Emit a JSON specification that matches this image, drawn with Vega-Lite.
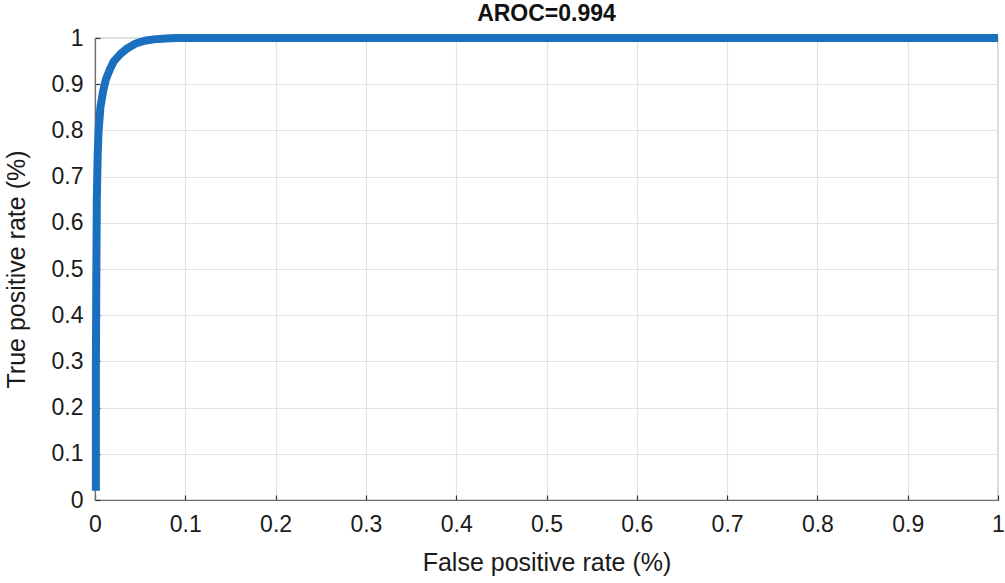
{
  "$schema": "https://vega.github.io/schema/vega-lite/v6.json",
  "width": 903,
  "height": 462,
  "autosize": "none",
  "padding": {"left": 95, "top": 38, "right": 7, "bottom": 83},
  "background": "white",
  "title": {"text": "AROC=0.994", "font": "Liberation Sans", "fontSize": 23, "fontWeight": "bold", "color": "#111", "anchor": "middle", "offset": 1},
  "config": {
    "view": {"stroke": "#6e6e6e", "strokeWidth": 1.2},
    "axis": {
      "labelFont": "Liberation Sans", "labelFontSize": 23, "labelColor": "#1a1a1a",
      "titleFont": "Liberation Sans", "titleFontSize": 25, "titleFontWeight": "normal", "titleColor": "#1a1a1a",
      "gridColor": "#e3e3e3", "gridWidth": 1.2, "domainColor": "#6e6e6e", "domainWidth": 1.2,
      "tickColor": "#333", "tickSize": -5, "tickWidth": 1.2
    }
  },
  "data": {"values": [
    {"i": 0, "fpr": 0.001, "tpr": 0.02},
    {"i": 1, "fpr": 0.001, "tpr": 0.3},
    {"i": 2, "fpr": 0.0015, "tpr": 0.5},
    {"i": 3, "fpr": 0.002, "tpr": 0.65},
    {"i": 4, "fpr": 0.003, "tpr": 0.75},
    {"i": 5, "fpr": 0.004, "tpr": 0.8},
    {"i": 6, "fpr": 0.006, "tpr": 0.85},
    {"i": 7, "fpr": 0.009, "tpr": 0.885},
    {"i": 8, "fpr": 0.012, "tpr": 0.91},
    {"i": 9, "fpr": 0.016, "tpr": 0.93},
    {"i": 10, "fpr": 0.021, "tpr": 0.95},
    {"i": 11, "fpr": 0.028, "tpr": 0.965},
    {"i": 12, "fpr": 0.036, "tpr": 0.978},
    {"i": 13, "fpr": 0.045, "tpr": 0.988},
    {"i": 14, "fpr": 0.055, "tpr": 0.994},
    {"i": 15, "fpr": 0.065, "tpr": 0.997},
    {"i": 16, "fpr": 0.078, "tpr": 0.999},
    {"i": 17, "fpr": 0.09, "tpr": 1.0},
    {"i": 18, "fpr": 0.3, "tpr": 1.0},
    {"i": 19, "fpr": 1.0, "tpr": 1.0}
  ]},
  "mark": {"type": "line", "color": "#1a6fbf", "strokeWidth": 8, "strokeCap": "butt", "strokeJoin": "round", "clip": false},
  "encoding": {
    "order": {"field": "i", "type": "quantitative"},
    "x": {"field": "fpr", "type": "quantitative", "scale": {"domain": [0, 1], "nice": false, "zero": false},
      "axis": {"title": "False positive rate (%)", "values": [0, 0.1, 0.2, 0.3, 0.4, 0.5, 0.6, 0.7, 0.8, 0.9, 1], "format": "~g", "labelPadding": 18, "titlePadding": 14, "labelFlush": false}},
    "y": {"field": "tpr", "type": "quantitative", "scale": {"domain": [0, 1], "nice": false, "zero": false},
      "axis": {"title": "True positive rate (%)", "values": [0, 0.1, 0.2, 0.3, 0.4, 0.5, 0.6, 0.7, 0.8, 0.9, 1], "format": "~g", "labelPadding": 17, "titlePadding": 22, "labelFlush": false}}
  }
}
